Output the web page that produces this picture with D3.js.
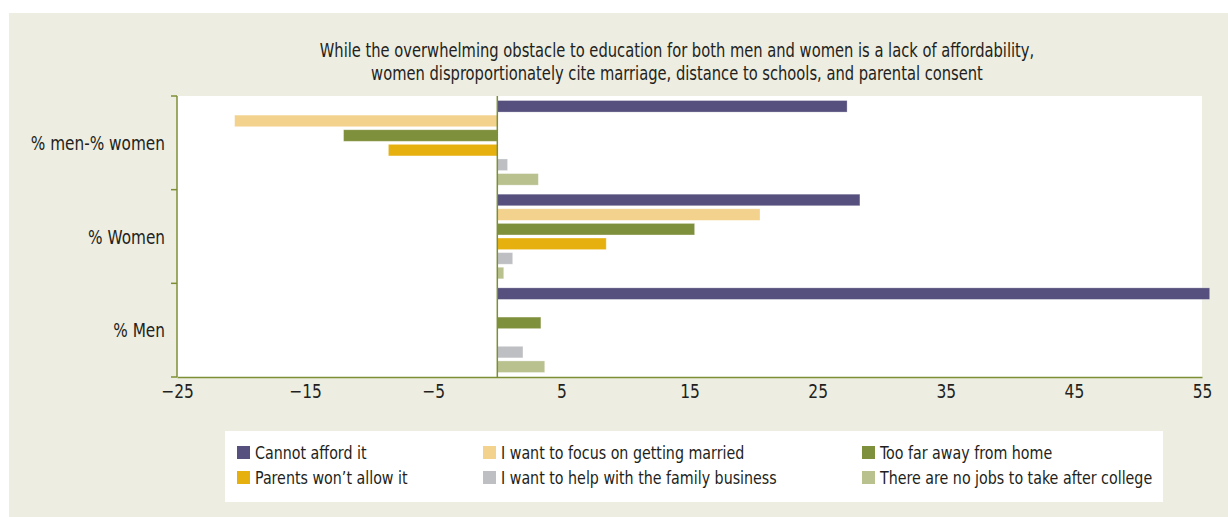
<!DOCTYPE html>
<html>
<head>
<meta charset="utf-8">
<script src="https://cdn.jsdelivr.net/npm/d3@7"></script>
<style>
  body { margin: 0; background: #fff; }
  text { font-family: "Liberation Sans Narrow", "DejaVu Sans Condensed", sans-serif; fill: #231f20; }
</style>
</head>
<body>
<script>

// data
var groups = ["% men-% women", "% Women", "% Men"];
var reasons = ["Cannot afford it", "I want to focus on getting married", "Too far away from home",
               "Parents won\u2019t allow it", "I want to help with the family business", "There are no jobs to take after college"];
var colors = ["#55507e", "#f2d28c", "#7f903c", "#e6b00f", "#bebfc3", "#b9c18f"];

var diffValues  = [27.3, -20.5, -12.0, -8.5, 0.8, 3.2];
var womenValues = [28.3, 20.5, 15.4, 8.5, 1.2, 0.5];
var menValues   = [55.6, 0, 3.4, 0, 2.0, 3.7];

var xTicks = [-25, -15, -5, 5, 15, 25, 35, 45, 55];

var width = 1228, height = 517;
var plot = {left: 177, right: 1202, top: 96, bottom: 377};
var axisColor = "#7d8f35";

// the original uses a condensed face; squeeze the fallback to roughly the same width
function condense(sel, k) {
  sel.each(function() {
    var w = this.getComputedTextLength();
    d3.select(this).attr("textLength", w * k).attr("lengthAdjust", "spacingAndGlyphs");
  });
}

var svg = d3.select("body").append("svg")
    .attr("width", width)
    .attr("height", height);

// beige panel
svg.append("rect")
    .attr("x", 9).attr("y", 13)
    .attr("width", width - 9).attr("height", height - 13)
    .attr("fill", "#edede2");

// plot area
svg.append("rect")
    .attr("x", plot.left).attr("y", plot.top)
    .attr("width", plot.right - plot.left).attr("height", plot.bottom - plot.top)
    .attr("fill", "#fff");

// title
var title = svg.selectAll(".title")
  .data(["While the overwhelming obstacle to education for both men and women is a lack of affordability,",
         "women disproportionately cite marriage, distance to schools, and parental consent"])
  .enter().append("text")
    .attr("class", "title")
    .attr("x", 677)
    .attr("y", function(d, i) { return 57 + i * 23; })
    .attr("text-anchor", "middle")
    .style("font-size", "19px")
    .text(function(d) { return d; });
condense(title, 0.86);

var xScale = d3.scaleLinear()
    .domain([-25, 55])
    .range([plot.left, plot.right]);

var yScale = d3.scaleBand()
    .domain(groups)
    .range([plot.top, plot.bottom]);

var yInner = d3.scaleBand()
    .domain(reasons)
    .range([0, yScale.bandwidth()])
    .paddingInner(0.21)
    .paddingOuter(0.31);

var rows = [
  {group: groups[0], values: diffValues},
  {group: groups[1], values: womenValues},
  {group: groups[2], values: menValues}
];

var bars = [];
rows.forEach(function(r) {
  r.values.forEach(function(v, i) {
    bars.push({group: r.group, reason: reasons[i], value: v, color: colors[i]});
  });
});

svg.selectAll(".bar")
  .data(bars.filter(function(d) { return d.value != 0; }))
  .enter().append("rect")
    .attr("class", "bar")
    .attr("x", function(d) { return xScale(Math.min(0, d.value)); })
    .attr("y", function(d) { return yScale(d.group) + yInner(d.reason); })
    .attr("width", function(d) { return Math.abs(xScale(d.value) - xScale(0)); })
    .attr("height", yInner.bandwidth())
    .attr("fill", function(d) { return d.color; })
    .attr("stroke", "#fff")
    .attr("stroke-opacity", 0.35)
    .attr("stroke-width", 0.8);

// zero line
svg.append("line")
    .attr("x1", xScale(0)).attr("x2", xScale(0))
    .attr("y1", plot.top).attr("y2", plot.bottom)
    .attr("stroke", axisColor)
    .attr("stroke-width", 1.5);

// x axis
var xAxis = svg.append("g")
    .attr("transform", "translate(0," + plot.bottom + ")")
    .call(d3.axisBottom(xScale)
      .tickValues(xTicks)
      .tickSize(0)
      .tickPadding(7)
      .tickFormat(function(d) { return d < 0 ? "\u2212" + Math.abs(d) : d; }));
xAxis.select(".domain").attr("stroke", axisColor).attr("stroke-width", 1.5);
xAxis.selectAll("text")
    .attr("dy", "0.71em")
    .style("font-size", "20px")
    .attr("font-family", null)
    .attr("fill", "#231f20");
condense(xAxis.selectAll("text"), 0.86);

// y axis, ticks on band edges
var yAxis = svg.append("g")
    .attr("transform", "translate(" + plot.left + ",0)");
yAxis.append("line")
    .attr("y1", plot.top).attr("y2", plot.bottom)
    .attr("stroke", axisColor).attr("stroke-width", 1.5);
yAxis.selectAll(".tick")
  .data(groups.map(function(g) { return yScale(g); }).concat([plot.bottom]))
  .enter().append("line")
    .attr("x1", -6).attr("x2", 0)
    .attr("y1", function(d) { return d; })
    .attr("y2", function(d) { return d; })
    .attr("stroke", axisColor).attr("stroke-width", 1.5);

var ylabels = svg.selectAll(".ylabel")
  .data(groups)
  .enter().append("text")
    .attr("class", "ylabel")
    .attr("x", 165)
    .attr("y", function(d) { return yScale(d) + yScale.bandwidth() / 2 + 7; })
    .attr("text-anchor", "end")
    .style("font-size", "20px")
    .text(function(d) { return d; });
condense(ylabels, 0.85);

// legend
svg.append("rect")
    .attr("x", 225).attr("y", 431)
    .attr("width", 938).attr("height", 71)
    .attr("fill", "#fff");

var legendCols = [237, 483, 862];
var legendRows = [446, 471];

var legend = svg.selectAll(".legend")
  .data(reasons)
  .enter().append("g")
    .attr("class", "legend")
    .attr("transform", function(d, i) {
      return "translate(" + legendCols[i % 3] + "," + legendRows[Math.floor(i / 3)] + ")";
    });

legend.append("rect")
    .attr("width", 13).attr("height", 13)
    .attr("fill", function(d, i) { return colors[i]; });

var legendText = legend.append("text")
    .attr("x", 18).attr("y", 13)
    .style("font-size", "18px")
    .text(function(d) { return d; });
condense(legendText, 0.88);

</script>
</body>
</html>
